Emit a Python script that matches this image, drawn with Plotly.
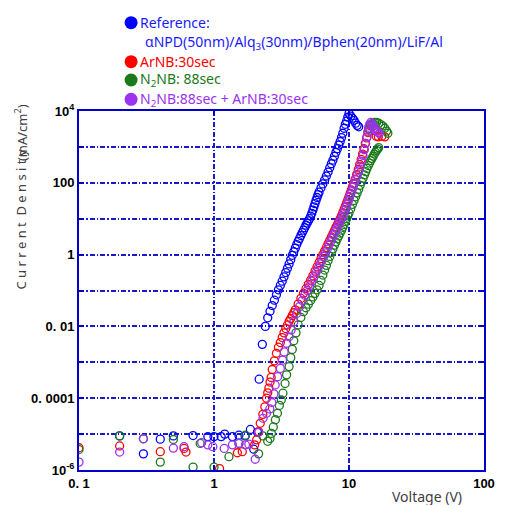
import plotly.graph_objects as go

# ---------------- data (voltage in V, log10 of current density in mA/cm^2) -------------
ref_v = [0.2, 0.3, 0.4, 0.5, 0.7, 0.9, 1.0, 1.13, 1.2, 1.37, 1.53, 1.7, 1.86, 1.97, 2.1,
         2.16, 2.28, 2.4, 2.5, 2.6, 2.7, 2.8, 2.9, 3.0,
         3.1, 3.2, 3.3, 3.4, 3.5, 3.6, 3.7, 3.8, 3.9, 4.0,
         4.1, 4.2, 4.3, 4.4, 4.5, 4.6, 4.7, 4.8, 4.9, 5.0,
         5.1, 5.2, 5.3, 5.4, 5.5, 5.6, 5.7, 5.8, 5.9, 6.0,
         6.2, 6.4, 6.6, 6.8, 7.0, 7.2, 7.4, 7.6, 7.8, 8.0,
         8.2, 8.4, 8.6, 8.8, 9.0, 9.2, 9.4, 9.6, 9.8, 10.0,
         10.3, 10.6, 10.9, 11.2, 11.5, 11.8]
ref_log10_j = [-5.05, -5.55, -5.14, -5.05, -5.04, -5.07, -5.07, -5.07, -5.0, -5.07, -5.03, -5.05, -4.87, -5.42, -4.95,
               -3.47, -2.50, -2.0, -1.76, -1.58, -1.42, -1.27, -1.12, -0.98,
               -0.86, -0.74, -0.62, -0.50, -0.38, -0.26, -0.14, -0.02, 0.08, 0.18,
               0.28, 0.37, 0.45, 0.53, 0.61, 0.68, 0.75, 0.82, 0.88, 0.94,
               1.0, 1.07, 1.15, 1.24, 1.33, 1.42, 1.51, 1.59, 1.67, 1.74,
               1.86, 1.97, 2.08, 2.19, 2.30, 2.42, 2.53, 2.63, 2.74, 2.85,
               2.95, 3.05, 3.15, 3.26, 3.38, 3.52, 3.63, 3.72, 3.83, 3.93,
               3.86, 3.80, 3.74, 3.66, 3.60, 3.56]

arnb_v = [0.1, 0.2, 0.4, 0.6, 0.62, 1.1, 1.49, 1.62, 2.0, 2.07, 2.14,
          2.2, 2.3, 2.38, 2.45, 2.5, 2.55, 2.6, 2.65, 2.7,
          2.8, 2.9, 3.0, 3.1, 3.2, 3.3, 3.4, 3.5, 3.6, 3.7,
          3.8, 3.9, 4.0,
          4.2, 4.4, 4.6, 4.8, 5.0, 5.2, 5.4, 5.6, 5.8, 6.0,
          6.2, 6.4, 6.6, 6.8, 7.0, 7.2, 7.4, 7.6, 7.8, 8.0,
          8.2, 8.4, 8.6, 8.8, 9.0, 9.2, 9.4, 9.6, 9.8, 10.0,
          10.2, 10.4, 10.6, 10.8,
          11.1, 11.4, 11.7, 12.0, 12.3, 12.6, 12.9, 13.2, 13.5, 13.8,
          14.0, 14.3, 14.6, 15.0, 15.5, 15.9, 16.5, 17.5, 18.4]
arnb_log10_j = [-5.38, -5.33, -5.49, -5.40, -5.50, -5.96, -5.52, -5.49, -5.30, -5.16, -4.93,
                -4.70, -4.45, -4.24, -4.00, -3.85, -3.72, -3.55, -3.42, -3.20,
                -2.96, -2.75, -2.58, -2.45, -2.31, -2.18, -2.06, -1.96, -1.86, -1.78,
                -1.70, -1.62, -1.54,
                -1.38, -1.22, -1.08, -0.95, -0.83, -0.71, -0.59, -0.46, -0.34, -0.22,
                -0.11, 0.0, 0.10, 0.20, 0.30, 0.40, 0.49, 0.58, 0.67, 0.76,
                0.84, 0.92, 1.0, 1.08, 1.17, 1.26, 1.35, 1.44, 1.53, 1.62,
                1.71, 1.80, 1.89, 1.98,
                2.10, 2.23, 2.37, 2.51, 2.65, 2.80, 2.95, 3.10, 3.25, 3.40,
                3.50, 3.60, 3.62, 3.58, 3.45, 3.30, 3.28, 3.30, 3.28]

n2nb_v = [0.1, 0.2, 0.3, 0.4, 0.5, 0.7, 0.79, 1.0, 1.29, 1.53, 1.71, 2.14, 2.3, 2.5, 2.6,
          2.66, 2.75, 2.85, 2.95, 3.05, 3.15, 3.24, 3.36, 3.45, 3.6, 3.7, 3.8, 3.9, 4.05, 4.2, 4.4, 4.6,
          4.8, 5.0, 5.2, 5.4, 5.6, 5.8, 6.0, 6.2, 6.4, 6.6,
          6.8, 7.0, 7.2, 7.4, 7.6, 7.8, 8.0, 8.2, 8.4, 8.6,
          8.8, 9.0, 9.2, 9.4, 9.6, 9.8, 10.0, 10.3, 10.6, 10.9,
          11.2, 11.5, 11.8, 12.1, 12.4, 12.7, 13.0, 13.3, 13.6, 13.9,
          14.2, 14.5, 14.8, 15.1, 15.4, 15.7, 16.0, 16.3, 16.6,
          14.2, 14.6, 15.0, 15.5, 16.0, 16.6, 17.2, 17.8, 18.4, 19.0, 19.4]
n2nb_log10_j = [-5.43, -5.05, -5.13, -5.78, -5.15, -5.92, -5.26, -5.92, -5.63, -5.26, -5.03, -5.55, -5.05, -5.20, -5.12,
                -4.98, -4.80, -4.60, -4.42, -4.20, -4.05, -3.86, -3.59, -3.35, -3.12, -2.87, -2.64, -2.40, -2.18, -1.96, -1.75, -1.59,
                -1.48, -1.38, -1.28, -1.18, -1.08, -0.98, -0.86, -0.72, -0.57, -0.43,
                -0.30, -0.17, -0.05, 0.06, 0.16, 0.26, 0.35, 0.44, 0.52, 0.60,
                0.68, 0.76, 0.84, 0.92, 1.0, 1.08, 1.16, 1.28, 1.40, 1.51,
                1.61, 1.72, 1.82, 1.93, 2.03, 2.13, 2.22, 2.31, 2.40, 2.48,
                2.55, 2.62, 2.68, 2.74, 2.80, 2.85, 2.90, 2.94, 2.98,
                3.50, 3.60, 3.66, 3.68, 3.68, 3.66, 3.62, 3.58, 3.52, 3.44, 3.38]

both_v = [0.1, 0.2, 0.3, 0.5, 0.6, 0.81, 0.9, 0.98, 1.19, 1.37, 1.53, 1.71, 1.81, 2.02, 2.14,
          2.31, 2.45, 2.59, 2.68, 2.78, 2.84, 2.96, 3.10, 3.22, 3.31, 3.45, 3.60, 3.73, 3.9, 4.1,
          4.3, 4.5, 4.7, 4.9, 5.1, 5.3, 5.5, 5.7, 5.9, 6.1,
          6.3, 6.5, 6.7, 6.9, 7.1, 7.3, 7.5, 7.7, 7.9, 8.1,
          8.3, 8.5, 8.7, 8.9, 9.1, 9.3, 9.5, 9.7, 9.9, 10.1,
          10.3, 10.5, 10.7, 10.9, 11.2, 11.5, 11.8, 12.1, 12.4, 12.7,
          13.0, 13.3, 13.6, 13.8, 14.0, 14.2, 14.5, 14.8, 15.1, 15.4, 15.7, 16.0, 16.4, 16.8]
both_log10_j = [-5.78, -5.50, -5.13, -5.39, -5.35, -5.24, -5.30, -5.35, -5.40, -5.30, -5.26, -5.30, -5.28, -5.70, -4.95,
                -4.56, -4.42, -4.30, -4.12, -3.88, -3.63, -3.40, -3.17, -2.94, -2.71, -2.47, -2.29, -2.10, -1.87, -1.64,
                -1.45, -1.28, -1.13, -1.0, -0.87, -0.74, -0.62, -0.50, -0.38, -0.26,
                -0.16, -0.05, 0.05, 0.15, 0.26, 0.36, 0.46, 0.55, 0.64, 0.72,
                0.81, 0.89, 0.97, 1.05, 1.14, 1.23, 1.32, 1.41, 1.50, 1.60,
                1.69, 1.78, 1.87, 1.96, 2.08, 2.20, 2.33, 2.46, 2.60, 2.76,
                2.92, 3.10, 3.28, 3.42, 3.55, 3.62, 3.68, 3.64, 3.58, 3.52, 3.47, 3.44, 3.40, 3.38]

x_tick_vals = [0.1, 1, 10, 100]
x_tick_text = ["0. 1", "1", "10", "100"]
y_tick_vals = [1e-6, 1e-5, 1e-4, 1e-3, 1e-2, 1e-1, 1, 10, 100, 1000, 1e4]
y_tick_text = ["10<sup>-6</sup>", " ", "0. 0001", " ", "0. 01", " ", "1", " ", "100", " ", "10<sup>4</sup>"]

series = [
    ("Reference", ref_v, ref_log10_j, "#0000ff"),
    ("ArNB:30sec", arnb_v, arnb_log10_j, "#ff0000"),
    ("N2NB:88sec", n2nb_v, n2nb_log10_j, "#1b7a1b"),
    ("N2NB:88sec + ArNB:30sec", both_v, both_log10_j, "#9a32f0"),
]

legend_items = [
    ("Reference:", "#1a1aff", "#0000ff"),
    ("ArNB:30sec", "#ff0000", "#ff0000"),
    ("N<sub>2</sub>NB: 88sec", "#1b7a1b", "#1b7a1b"),
    ("N<sub>2</sub>NB:88sec + ArNB:30sec", "#9a32f0", "#9a32f0"),
]
legend_second_line = "αNPD(50nm)/Alq<sub>3</sub>(30nm)/Bphen(20nm)/LiF/Al"

# ---------------- figure -------------
fig = go.Figure()
for name, v, lj, col in series:
    fig.add_trace(go.Scatter(
        x=v, y=[10 ** a for a in lj], mode="markers", name=name,
        marker=dict(symbol="circle-open", size=8, color=col, line=dict(width=1.3, color=col)),
        showlegend=False))

# page has an 8px body margin: figure pixel = page pixel - 8
OFF = 8
W = H = 497
L, T = 79 - OFF, 111 - OFF
R = W - (495 - OFF)
B = H - (470 - OFF)
pw, ph = W - L - R, H - T - B


def px(x):
    return (x - OFF - L) / pw


def py(y):
    return (H - B - (y - OFF)) / ph


axis_col = "#0000cc"
common = dict(showline=True, linecolor=axis_col, linewidth=2, mirror="ticks",
              ticks="inside", ticklen=5, tickcolor=axis_col, tickwidth=1.5,
              showgrid=True, gridcolor="#1a1acc", gridwidth=1.5, griddash="5px,2px,1.5px,2px",
              zeroline=False,
              tickfont=dict(family="Liberation Sans, Arial", size=13, color="black", weight="bold"))

fig.update_xaxes(type="log", range=[-1, 2], tickvals=x_tick_vals, ticktext=x_tick_text, **common)
fig.update_yaxes(type="log", range=[-6, 4], tickvals=y_tick_vals, ticktext=y_tick_text, **common)

ann = []
shapes = []
leg_y = [22.7, 61.7, 80, 99.3]
for (txt, tcol, dcol), yy in zip(legend_items, leg_y):
    ann.append(dict(text=txt, x=px(140), y=py(yy), xref="paper", yref="paper", xanchor="left",
                    yanchor="middle", showarrow=False,
                    font=dict(family="Noto Sans", size=14, color=tcol)))
    shapes.append(dict(type="circle", xref="paper", yref="paper", xsizemode="pixel", ysizemode="pixel",
                       xanchor=px(132.5), yanchor=py(yy), x0=-6.5, x1=6.5, y0=-6.5, y1=6.5,
                       fillcolor=dcol, line=dict(width=0)))
ann.append(dict(text=legend_second_line, x=px(145), y=py(42), xref="paper", yref="paper",
                xanchor="left", yanchor="middle", showarrow=False,
                font=dict(family="Noto Sans", size=14, color="#1a1aff")))

# axis titles
ann.append(dict(text="C u r r e n t\u00a0 D e n s i t y", x=px(19), y=py(292), xref="paper", yref="paper",
                xanchor="center", yanchor="bottom", textangle=-90, showarrow=False,
                font=dict(family="Noto Sans", size=13, color="#404040")))
ann.append(dict(text="(mA/cm<sup>2</sup>)", x=px(19), y=py(102), xref="paper", yref="paper",
                xanchor="center", yanchor="top", textangle=-90, showarrow=False,
                font=dict(family="Noto Sans", size=13, color="#404040")))
ann.append(dict(text="Voltage (V)", x=px(436), y=py(496), xref="paper", yref="paper",
                xanchor="center", yanchor="middle", showarrow=False,
                font=dict(family="Noto Sans", size=14, color="#404040")))

fig.update_layout(width=W, height=H, margin=dict(l=L, r=R, t=T, b=B),
                  paper_bgcolor="white", plot_bgcolor="white", showlegend=False,
                  annotations=ann, shapes=shapes)

fig.write_html("out.html")
